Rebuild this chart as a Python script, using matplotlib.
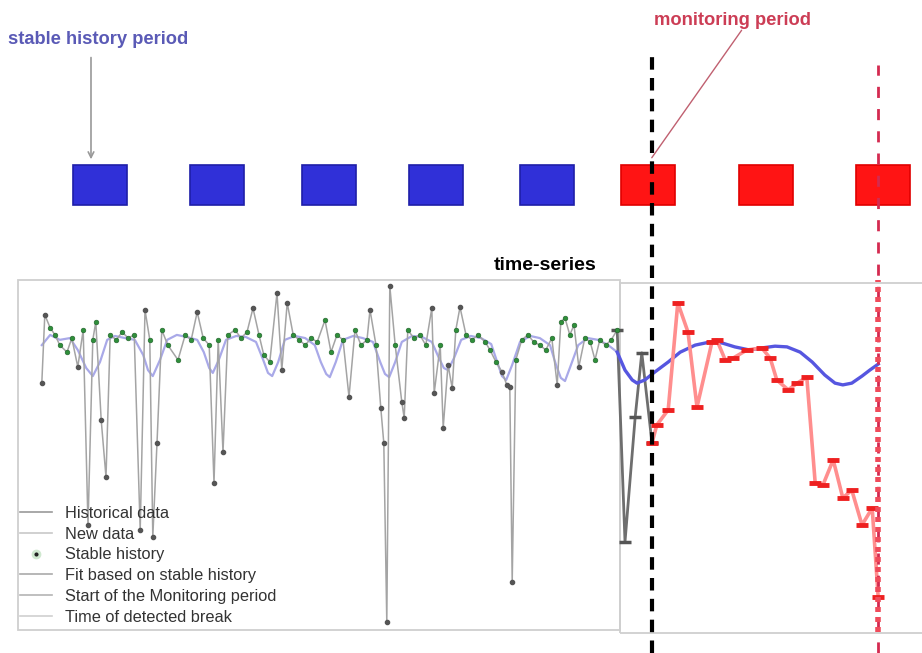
"""
Schematic of near real-time break detection: stable history vs monitoring period,
with the time-series panel below the period boxes.
"""

import matplotlib

matplotlib.use("Agg")
import matplotlib.pyplot as plt
from matplotlib.lines import Line2D
from matplotlib.patches import Rectangle

plt.rcParams["font.family"] = ["Liberation Sans", "DejaVu Sans"]

# --- data (time in decimal years, values as an NDVI-like index) ---
hist_t = [2000.03, 2000.08, 2000.17, 2000.25, 2000.33, 2000.45, 2000.53, 2000.63, 2000.72, 2000.80,
          2000.88, 2000.93, 2001.02, 2001.10, 2001.17, 2001.27, 2001.37, 2001.47, 2001.57, 2001.67,
          2001.75, 2001.83, 2001.88, 2001.95, 2002.03, 2002.13, 2002.30, 2002.42, 2002.52, 2002.62,
          2002.72, 2002.82, 2002.90, 2002.97, 2003.05, 2003.13, 2003.25, 2003.35, 2003.45, 2003.55,
          2003.65, 2003.73, 2003.83, 2003.95, 2004.03, 2004.12, 2004.22, 2004.32, 2004.42, 2004.52,
          2004.62, 2004.75, 2004.85, 2004.95, 2005.05, 2005.15, 2005.25, 2005.35, 2005.45, 2005.50,
          2005.60, 2005.68, 2005.73, 2005.78, 2005.83, 2005.92, 2006.03, 2006.07, 2006.13, 2006.23,
          2006.33, 2006.43, 2006.53, 2006.57, 2006.67, 2006.72, 2006.80, 2006.87, 2006.93, 2007.00,
          2007.10, 2007.20, 2007.30, 2007.42, 2007.50, 2007.60, 2007.70, 2007.78, 2007.83, 2007.87,
          2007.93, 2008.03, 2008.13, 2008.23, 2008.33, 2008.43, 2008.53, 2008.62, 2008.68, 2008.75,
          2008.83, 2008.90, 2008.98, 2009.08, 2009.17, 2009.25, 2009.33, 2009.43, 2009.52, 2009.62]
hist_v = [0.707, 0.901, 0.864, 0.844, 0.815, 0.795, 0.835, 0.753, 0.858, 0.304,
          0.830, 0.881, 0.602, 0.440, 0.844, 0.830, 0.852, 0.835, 0.844, 0.290,
          0.915, 0.830, 0.270, 0.537, 0.858, 0.815, 0.773, 0.844, 0.830, 0.909,
          0.835, 0.815, 0.423, 0.830, 0.511, 0.844, 0.858, 0.835, 0.852, 0.920,
          0.844, 0.787, 0.767, 0.963, 0.744, 0.935, 0.844, 0.830, 0.815, 0.835,
          0.824, 0.886, 0.795, 0.844, 0.830, 0.668, 0.858, 0.815, 0.830, 0.915,
          0.815, 0.636, 0.537, 0.028, 0.983, 0.815, 0.653, 0.608, 0.858, 0.835,
          0.844, 0.815, 0.920, 0.679, 0.815, 0.580, 0.759, 0.693, 0.858, 0.923,
          0.844, 0.830, 0.844, 0.824, 0.801, 0.767, 0.739, 0.702, 0.696, 0.142,
          0.773, 0.830, 0.844, 0.824, 0.815, 0.801, 0.835, 0.702, 0.881, 0.892,
          0.844, 0.872, 0.753, 0.835, 0.824, 0.773, 0.830, 0.815, 0.830, 0.858]

new_t = [2009.62, 2009.75, 2009.92, 2010.03, 2010.20]
new_v = [0.858, 0.256, 0.611, 0.793, 0.537]

mon_t = [2010.20, 2010.28, 2010.47, 2010.63, 2010.80, 2010.95, 2011.20, 2011.28, 2011.42, 2011.55,
         2011.78, 2012.03, 2012.17, 2012.28, 2012.47, 2012.62, 2012.78, 2012.92, 2013.05, 2013.22,
         2013.38, 2013.53, 2013.70, 2013.87, 2013.97]
mon_v = [0.537, 0.588, 0.631, 0.935, 0.852, 0.639, 0.824, 0.830, 0.773, 0.778,
         0.801, 0.807, 0.778, 0.716, 0.688, 0.707, 0.724, 0.423, 0.418, 0.489,
         0.381, 0.403, 0.304, 0.352, 0.099]

fit_hist_t = [2000.03, 2000.17, 2000.33, 2000.50, 2000.63, 2000.77, 2000.88, 2001.00, 2001.12, 2001.25,
              2001.42, 2001.58, 2001.72, 2001.80, 2001.88, 2002.00, 2002.12, 2002.28, 2002.45, 2002.62,
              2002.73, 2002.82, 2002.88, 2002.98, 2003.10, 2003.27, 2003.43, 2003.60, 2003.72, 2003.80,
              2003.87, 2003.97, 2004.08, 2004.25, 2004.42, 2004.58, 2004.68, 2004.77, 2004.83, 2004.93,
              2005.05, 2005.22, 2005.38, 2005.55, 2005.67, 2005.75, 2005.82, 2005.92, 2006.03, 2006.20,
              2006.37, 2006.53, 2006.65, 2006.73, 2006.80, 2006.90, 2007.02, 2007.18, 2007.35, 2007.52,
              2007.62, 2007.70, 2007.77, 2007.87, 2008.00, 2008.17, 2008.33, 2008.50, 2008.60, 2008.68,
              2008.75, 2008.85, 2008.97, 2009.13, 2009.30, 2009.47, 2009.62]
fit_hist_v = [0.815, 0.844, 0.830, 0.835, 0.801, 0.750, 0.727, 0.767, 0.830, 0.841,
              0.835, 0.830, 0.787, 0.744, 0.727, 0.773, 0.830, 0.844, 0.838, 0.830,
              0.795, 0.750, 0.736, 0.773, 0.830, 0.841, 0.838, 0.824, 0.773, 0.736,
              0.727, 0.767, 0.830, 0.841, 0.835, 0.815, 0.767, 0.733, 0.724, 0.767,
              0.830, 0.841, 0.835, 0.824, 0.767, 0.733, 0.724, 0.767, 0.824, 0.841,
              0.838, 0.824, 0.778, 0.750, 0.744, 0.778, 0.830, 0.841, 0.835, 0.818,
              0.767, 0.727, 0.716, 0.759, 0.824, 0.841, 0.835, 0.815, 0.759, 0.722,
              0.713, 0.759, 0.815, 0.835, 0.830, 0.815, 0.795]

fit_mon_t = [2009.62, 2009.75, 2009.87, 2009.95, 2010.08, 2010.25, 2010.47, 2010.67, 2010.92, 2011.17,
             2011.37, 2011.58, 2011.83, 2012.03, 2012.25, 2012.45, 2012.67, 2012.87, 2013.08, 2013.25,
             2013.38, 2013.53, 2013.70, 2013.83, 2013.97]
fit_mon_v = [0.795, 0.744, 0.716, 0.707, 0.716, 0.739, 0.767, 0.795, 0.815, 0.824,
             0.821, 0.810, 0.801, 0.807, 0.812, 0.810, 0.795, 0.767, 0.730, 0.707,
             0.702, 0.707, 0.727, 0.744, 0.761]

monitor_start = 2010.20
break_time = 2013.97

# period boxes above the panel (start year of each period, stable or monitoring)
period_start = [2000.55, 2002.50, 2004.37, 2006.15, 2008.00, 2009.68, 2011.65, 2013.60]
period_kind = ["stable", "stable", "stable", "stable", "stable", "monitor", "monitor", "monitor"]
period_len = 0.9

legend_labels = ["Historical data", "New data", "Stable history", "Fit based on stable history",
                 "Start of the Monitoring period", "Time of detected break"]

# --- figure ---
fig = plt.figure(figsize=(9.22, 6.53), dpi=100)
ax = fig.add_axes([0.0195, 0.0322, 0.9805, 0.539])
ax.set_xlim(1999.633, 2014.70)
ax.set_ylim(0, 1)
ax.axis("off")

# panel frames: history (left) and monitoring (right)
ax.add_patch(Rectangle((0, 0.006), 0.666, 0.994, transform=ax.transAxes, fill=False,
                       ec="#cfcfcf", lw=1.3, clip_on=False))
ax.add_patch(Rectangle((0.666, -0.003), 0.36, 0.994, transform=ax.transAxes, fill=False,
                       ec="#cfcfcf", lw=1.3, clip_on=False))

# fit on stable history
ax.plot(fit_hist_t, fit_hist_v, color="#9a9ae4", lw=1.6, alpha=0.85, zorder=2)
ax.plot(fit_mon_t, fit_mon_v, color="#5656e0", lw=2.4, zorder=4)

# historical data
ax.plot(hist_t, hist_v, color="#a4a4a4", lw=1.1, zorder=3)
stable = [0.76 < v < 0.9 for v in hist_v]
ax.plot([t for t, s in zip(hist_t, stable) if s], [v for v, s in zip(hist_v, stable) if s],
        "o", ms=3.4, color="#2f8f3a", mec="#1f5f2a", mew=0.4, zorder=5)
ax.plot([t for t, s in zip(hist_t, stable) if not s], [v for v, s in zip(hist_v, stable) if not s],
        "o", ms=3.0, color="#555555", zorder=5)

# new data before the monitoring starts
ax.plot(new_t, new_v, color="#6e6e6e", lw=2.0, marker="_", ms=8, mew=2.5, mec="#555555", zorder=3)

# monitoring data
ax.plot(mon_t, mon_v, color="#ff8e8e", lw=2.6, zorder=5)
ax.plot(mon_t, mon_v, "_", ms=9, mew=3.5, color="#ee2020", zorder=6)

# start of monitoring and detected break
ax.axvline(monitor_start, ymin=-0.06, ymax=1.64, color="black", lw=3, ls=(0, (3, 2)),
           clip_on=False, zorder=7)
ax.axvline(break_time, ymin=-0.06, ymax=1.61, color="#d42a50", lw=2, ls=(0, (4, 4)),
           clip_on=False, zorder=7)
ax.axvline(break_time, ymin=0, ymax=1, color="#f04a5a", lw=4, ls=(0, (0.9, 0.9)),
           clip_on=False, zorder=7)

# period boxes
for start, kind in zip(period_start, period_kind):
    face = "#3030d8" if kind == "stable" else "#ff1414"
    edge = "#1e1ea8" if kind == "stable" else "#e00000"
    ax.add_patch(Rectangle((start, 1.213), period_len, 0.114, fc=face, ec=edge, lw=1.2,
                           clip_on=False, zorder=6))

# annotations
fig.text(0.009, 0.939, "stable history period", color="#5a5ab6", fontsize=13.2,
         fontweight="bold", va="center", ha="left")
ax.annotate("", xy=(2000.85, 1.335), xytext=(2000.85, 1.64),
            arrowprops=dict(arrowstyle="->", color="#999999", lw=1.2), annotation_clip=False)
fig.text(0.795, 0.969, "monitoring period", color="#cc3d55", fontsize=13.2,
         fontweight="bold", va="center", ha="center")
ax.annotate("", xy=(2010.17, 1.341), xytext=(2011.72, 1.716),
            arrowprops=dict(arrowstyle="-", color="#c06070", lw=1.0), annotation_clip=False)
fig.text(0.591, 0.594, "time-series", color="black", fontsize=14, fontweight="bold",
         va="center", ha="center")

# legend (proxies drawn faint, as in the original)
handles = [
    Line2D([], [], color="#9a9a9a", lw=1.2),
    Line2D([], [], color="#c8c8c8", lw=1.2),
    Line2D([], [], ls="none", marker="o", ms=5, color="#222222", mec="#cfe8cf", mew=2),
    Line2D([], [], color="#aaaaaa", lw=1.2),
    Line2D([], [], color="#b4b4b4", lw=1.2),
    Line2D([], [], color="#d0d0d0", lw=1.2),
]
leg = ax.legend(handles, legend_labels, loc="lower left", bbox_to_anchor=(0.002, 0.021),
                frameon=False, fontsize=11.8, handlelength=1.95, handletextpad=0.8,
                labelspacing=0.35, borderaxespad=0, borderpad=0)
for txt in leg.get_texts():
    txt.set_color("#333333")
leg.set_zorder(8)

fig.savefig("out.png", dpi=100)
